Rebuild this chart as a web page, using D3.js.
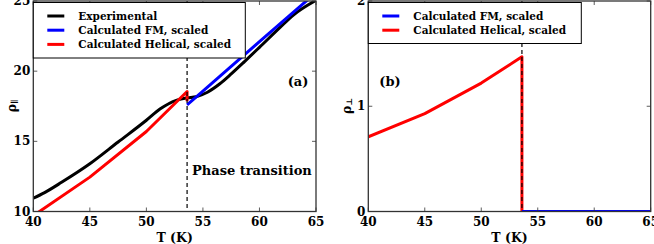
<!DOCTYPE html>
<html>
<head>
<meta charset="utf-8">
<script src="https://cdn.jsdelivr.net/npm/d3@7.9.0/dist/d3.min.js"></script>
<style>
  body { margin: 0; background: #fff; }
  svg { display: block; }
  text { font-family: "DejaVu Serif", serif; font-weight: bold; fill: #000; }
</style>
</head>
<body>
<svg id="chart" width="654" height="244"></svg>
<script>
// --- data ---
const transitionT = 53.6;

// panel (a): rho parallel
const expT   = [40, 41, 42.5, 45, 47.5, 50, 51.2, 52.7, 53.6, 54.4, 55.4, 56.5, 57.5, 58.7, 60, 61.8, 63, 65];
const expRho = [10.95, 11.35, 12.08, 13.4, 14.95, 16.5, 17.3, 17.94, 18.1, 18.18, 18.5, 19.1, 19.8, 20.7, 21.7, 23.1, 24.0, 25.05];

const fmT   = [53.6, 55, 60, 65];
const fmRho = [17.6, 18.58, 22.1, 25.6];

const helT   = [40, 45, 50, 53.6, 53.6];
const helRho = [9.7, 12.45, 15.7, 18.55, 17.85];

// panel (b): rho perpendicular
const helPerpT   = [40, 45, 50, 53.6, 53.6];
const helPerpRho = [0.71, 0.93, 1.22, 1.47, 0];
const fmPerpT    = [53.6, 65];
const fmPerpRho  = [0, 0];

const xTicks  = [40, 45, 50, 55, 60, 65];
const yTicksA = [10, 15, 20, 25];
const yTicksB = [0, 1, 2];

const legendA = [
  { label: 'Experimental', color: '#000000' },
  { label: 'Calculated FM, scaled', color: '#0000ff' },
  { label: 'Calculated Helical, scaled', color: '#ff0000' }
];
const legendB = legendA.slice(1);

const svg = d3.select('#chart');

function zip(xs, ys) { return xs.map((x, i) => [x, ys[i]]); }

function panel(opts) {
  const x = d3.scaleLinear().domain([40, 65]).range([opts.left, opts.right]);
  const y = d3.scaleLinear().domain(opts.yDomain).range([211.5, 1]);
  const g = svg.append('g');

  const clipId = 'clip' + opts.name;
  g.append('clipPath').attr('id', clipId)
    .append('rect')
    .attr('x', opts.left).attr('y', 1)
    .attr('width', opts.right - opts.left).attr('height', 210.5);

  const plot = g.append('g').attr('clip-path', `url(#${clipId})`);

  opts.series.forEach(s => {
    const line = d3.line()
      .x(d => x(d[0])).y(d => y(d[1]))
      .curve(s.smooth ? d3.curveMonotoneX : d3.curveLinear);
    plot.append('path')
      .attr('d', line(s.data))
      .attr('fill', 'none')
      .attr('stroke', s.color)
      .attr('stroke-width', 3)
      .attr('stroke-linejoin', 'round');
  });

  // dashed transition line
  plot.append('line')
    .attr('x1', x(transitionT)).attr('x2', x(transitionT))
    .attr('y1', 1).attr('y2', 211.5)
    .attr('stroke', '#000').attr('stroke-width', 1.2)
    .attr('stroke-dasharray', '4,3');

  // ticks on all four sides, pointing inward
  const tickLen = 4;
  const axisColor = '#333';
  xTicks.forEach(t => {
    g.append('line').attr('x1', x(t)).attr('x2', x(t))
      .attr('y1', 211.5).attr('y2', 211.5 - tickLen)
      .attr('stroke', axisColor).attr('stroke-width', 0.8);
    g.append('line').attr('x1', x(t)).attr('x2', x(t))
      .attr('y1', 1).attr('y2', 1 + tickLen)
      .attr('stroke', axisColor).attr('stroke-width', 0.8);
    g.append('text')
      .attr('x', x(t)).attr('y', 222)
      .attr('text-anchor', 'middle').attr('dominant-baseline', 'central')
      .attr('font-size', 12)
      .text(t);
  });
  opts.yTicks.forEach(t => {
    g.append('line').attr('x1', opts.left).attr('x2', opts.left + tickLen)
      .attr('y1', y(t)).attr('y2', y(t))
      .attr('stroke', axisColor).attr('stroke-width', 0.8);
    g.append('line').attr('x1', opts.right).attr('x2', opts.right - tickLen)
      .attr('y1', y(t)).attr('y2', y(t))
      .attr('stroke', axisColor).attr('stroke-width', 0.8);
    g.append('text')
      .attr('x', opts.left - 3).attr('y', y(t))
      .attr('text-anchor', 'end').attr('dominant-baseline', 'central')
      .attr('font-size', 12)
      .text(t);
  });

  // frame
  g.append('rect')
    .attr('x', opts.left).attr('y', 1)
    .attr('width', opts.right - opts.left).attr('height', 210.5)
    .attr('fill', 'none').attr('stroke', axisColor).attr('stroke-width', 1.3);

  // axis labels
  g.append('text')
    .attr('x', (opts.left + opts.right) / 2).attr('y', 237)
    .attr('text-anchor', 'middle').attr('dominant-baseline', 'central')
    .attr('font-size', 12.5)
    .text('T (K)');
  const yl = g.append('text')
    .attr('transform', `translate(${opts.left - 22},${106}) rotate(-90)`)
    .attr('text-anchor', 'middle').attr('dominant-baseline', 'central')
    .attr('font-size', 12.5);
  yl.append('tspan').text('ρ');
  yl.append('tspan').attr('font-size', 8).attr('dy', 3).text(opts.sub);

  // legend
  const lg = g.append('g');
  lg.append('rect')
    .attr('x', opts.left).attr('y', 2.5)
    .attr('width', opts.legendW).attr('height', opts.legend.length * 14.5 + 12)
    .attr('fill', '#fff').attr('stroke', '#000').attr('stroke-width', 1);
  opts.legend.forEach((d, i) => {
    const ly = 16 + i * 14.2;
    lg.append('line')
      .attr('x1', opts.left + 14).attr('x2', opts.left + 31)
      .attr('y1', ly).attr('y2', ly)
      .attr('stroke', d.color).attr('stroke-width', 3);
    lg.append('text')
      .attr('x', opts.left + 45).attr('y', ly)
      .attr('dominant-baseline', 'central')
      .attr('font-size', 10.5)
      .text(d.label);
  });

  return { g, x, y };
}

const a = panel({
  name: 'a', left: 33.3, right: 316, yDomain: [10, 25], yTicks: yTicksA, sub: '∥',
  legend: legendA, legendW: 212,
  series: [
    { data: zip(expT, expRho), color: '#000000', smooth: true },
    { data: zip(fmT, fmRho), color: '#0000ff' },
    { data: zip(helT, helRho), color: '#ff0000' }
  ]
});
a.g.append('text').attr('x', 298).attr('y', 81)
  .attr('text-anchor', 'middle').attr('dominant-baseline', 'central')
  .attr('font-size', 13).text('(a)');
a.g.append('text').attr('x', 192).attr('y', 170)
  .attr('dominant-baseline', 'central')
  .attr('font-size', 13).text('Phase transition');

const b = panel({
  name: 'b', left: 368.3, right: 650.7, yDomain: [0, 2], yTicks: yTicksB, sub: '⊥',
  legend: legendB, legendW: 213,
  series: [
    { data: zip(helPerpT, helPerpRho), color: '#ff0000' },
    { data: zip(fmPerpT, fmPerpRho), color: '#0000ff' }
  ]
});
b.g.append('text').attr('x', 390).attr('y', 81)
  .attr('text-anchor', 'middle').attr('dominant-baseline', 'central')
  .attr('font-size', 13).text('(b)');
</script>
</body>
</html>
